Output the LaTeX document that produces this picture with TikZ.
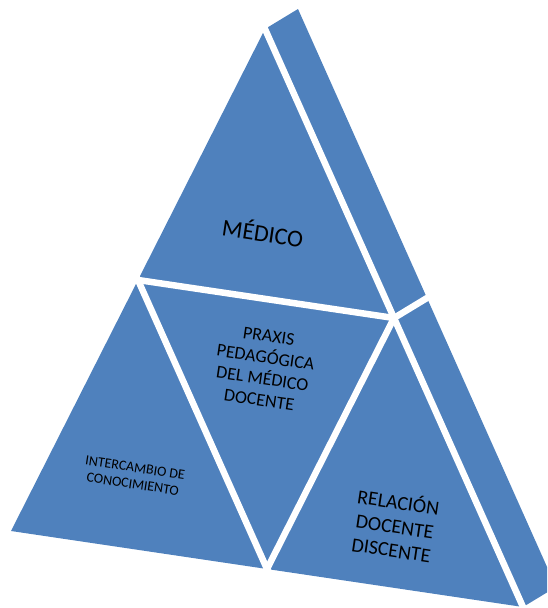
\documentclass[tikz,border=0pt]{standalone}
\usepackage{fontspec}
\setmainfont{Carlito}
\usetikzlibrary{
	calc					% Allows midpoints and offsets of coordinates
}
\definecolor{pyramidblue}{HTML}{4F81BD}

\begin{document}
\begin{tikzpicture}[x=1pt, y=-1pt
		, face/.style={fill=pyramidblue}
		, gap/.style={draw=white, line width=6.5pt}
		, facetext/.style={align=center, text=black, inner sep=0pt, rotate=-8.5}]

		%%% Frame of the picture
		\useasboundingbox (0,0) rectangle (547,608);
		\clip (0,0) rectangle (547,608);

		%%% Corners of the front face
		\coordinate (apex) at (265,29);
		\coordinate (baseleft) at (11,531);
		\coordinate (baseright) at (523,607);

		%% Side slab behind the right edge
		\coordinate (apexback) at ($(apex)+(33,-20)$);
		\coordinate (baseback) at ($(baseright)+(33,-20)$);

		%% Midpoints of the edges
		\coordinate (midleft) at ($(apex)!0.5!(baseleft)$);
		\coordinate (midright) at ($(apex)!0.5!(baseright)$);
		\coordinate (midbase) at ($(baseleft)!0.5!(baseright)$);
		\coordinate (midback) at ($(midright)+(33,-20)$);

		%%% Blue faces
		\fill[face] (apex) -- (baseleft) -- (baseright) -- cycle;
		\fill[face] (apex) -- (apexback) -- (baseback) -- (baseright) -- cycle;

		%%% White gaps between the pieces
		\draw[gap, shorten <=-8pt, shorten >=-8pt] (apex) -- (baseright);
		\draw[gap, shorten <=-8pt] (midback) -- (midright);
		\draw[gap, shorten <=-8pt] (midleft) -- (midright);
		\draw[gap, shorten >=-8pt] (midright) -- (midbase);
		\draw[gap, shorten <=-8pt, shorten >=-8pt] (midleft) -- (midbase);

		%%% Texts of the pieces
		\node[facetext, font=\fontsize{24}{28}\selectfont] (medico) at (263,232) {MÉDICO};
		\node[facetext, font=\fontsize{18}{21.5}\selectfont] (praxis) at (264,368) {PRAXIS\\PEDAGÓGICA\\DEL MÉDICO\\DOCENTE};
		\node[facetext, font=\fontsize{14}{16.5}\selectfont] (intercambio) at (134,476) {INTERCAMBIO DE\\CONOCIMIENTO};
		\node[facetext, font=\fontsize{20}{24}\selectfont] (relacion) at (395,525) {RELACIÓN\\DOCENTE\\DISCENTE};
	\end{tikzpicture}
\end{document}
